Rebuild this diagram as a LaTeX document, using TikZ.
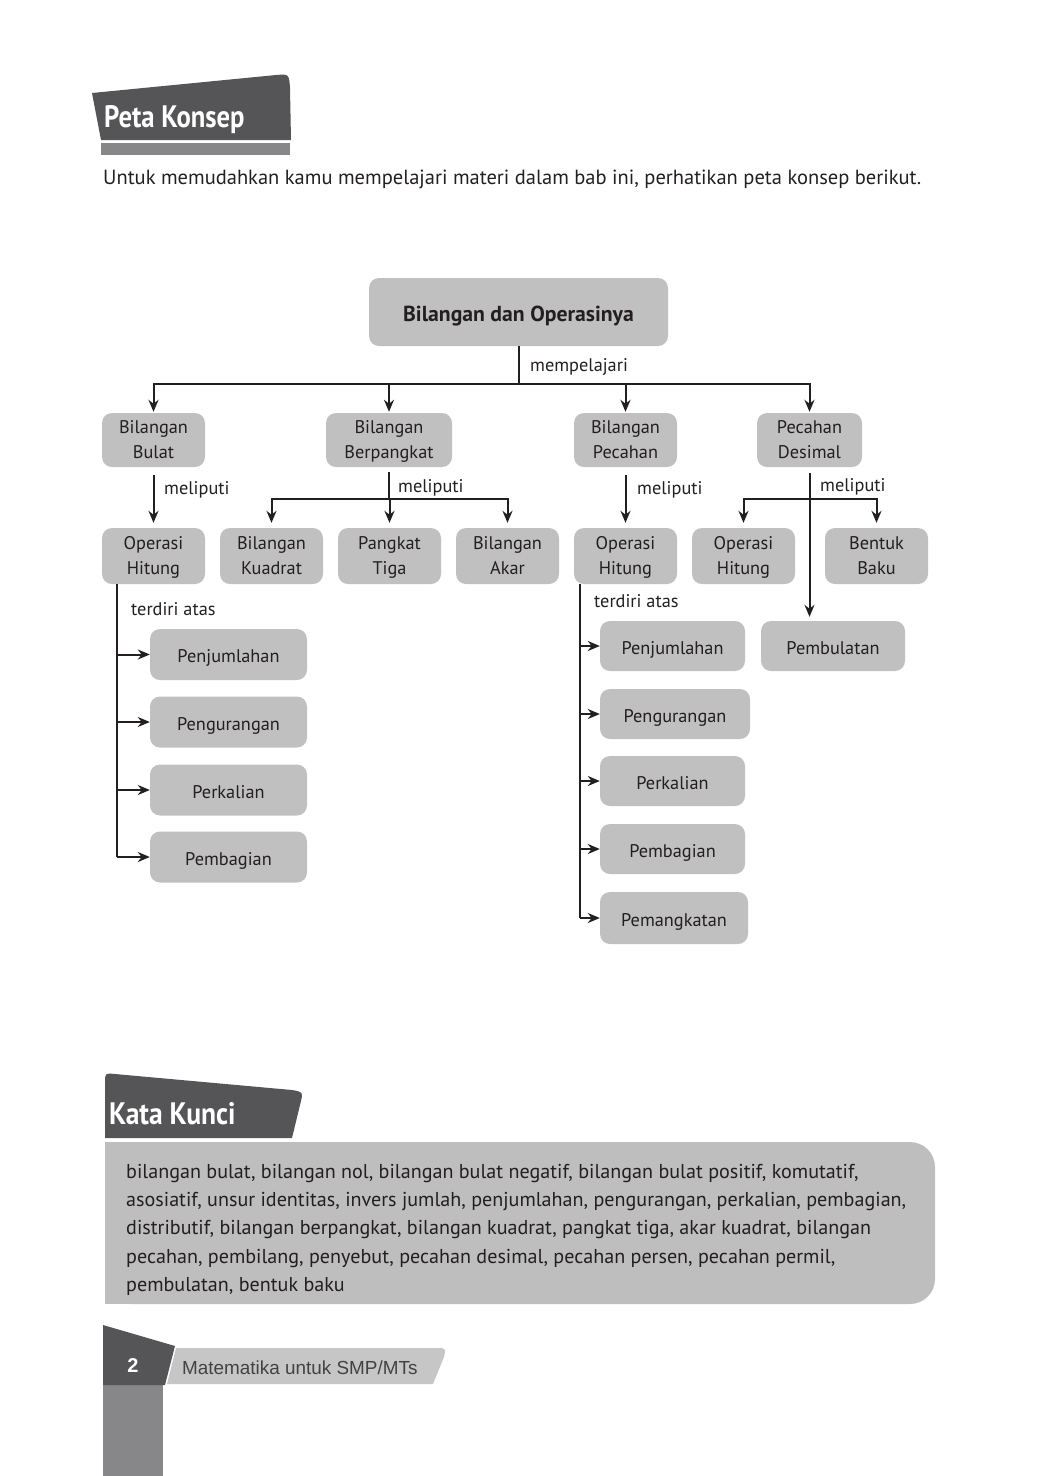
\documentclass[tikz,border=0pt]{standalone}
\usepackage{fontspec}
\usepackage{graphicx}
\setmainfont{PT Sans}
\newfontfamily\footfont{Liberation Sans}
\usetikzlibrary{arrows.meta}
\definecolor{dark}{HTML}{555557}
\definecolor{boxg}{HTML}{C0C0C0}
\definecolor{kkg}{HTML}{BEBEBF}
\definecolor{midg}{HTML}{87878A}
\definecolor{footg}{HTML}{C6C6C6}
\definecolor{txt}{HTML}{231F20}
\newcommand{\twostrut}{\rule[-6.5pt]{0pt}{25pt}}
\newcommand{\onestrut}{\rule[-4.5pt]{0pt}{25pt}}
\newcommand{\topstrut}{\rule[-3pt]{0pt}{25.6pt}}
\newcommand{\tl}[2]{#1\twostrut\\#2\twostrut}
\begin{document}
\begin{tikzpicture}[x=1pt,y=-1pt,
  box/.style={fill=boxg, rounded corners=10pt, text=txt, align=center,
    font=\fontsize{18.3}{25}\selectfont, inner sep=0pt},
  conn/.style={line width=2pt, draw=txt},
  arr/.style={conn, -{Stealth[length=12pt,width=10pt]}},
  lbl/.style={text=txt, font=\fontsize{18.3}{20}\selectfont, anchor=base west, inner sep=0pt},
  banner/.style={text=white, font=\fontsize{31}{34}\selectfont\bfseries, anchor=base west, inner sep=0pt}]
\useasboundingbox (0,0) rectangle (1039,1476);

% ---------- header
\fill[dark] (101,140) -- (92,93) -- (276,75) .. controls (289,74) .. (290,88) -- (291,140) -- cycle;
\fill[midg] (101,143) rectangle (290,155);
\node[banner] (title) at (104,127) {\scalebox{0.86}[1]{Peta Konsep}};
\node[lbl, font=\fontsize{20.5}{22}\selectfont] (intro) at (103,184)
  {Untuk memudahkan kamu mempelajari materi dalam bab ini, perhatikan peta konsep berikut.};

% ---------- concept map nodes
\node[box, minimum width=299pt, minimum height=68pt, font=\fontsize{21.7}{24}\selectfont\bfseries] (top) at (518.5,312) {Bilangan dan Operasinya\topstrut};

\node[box, minimum width=103pt, minimum height=54pt] (bulat) at (153.5,440) {\tl{Bilangan}{Bulat}};
\node[box, minimum width=126pt, minimum height=54pt] (pangkat) at (389,440) {\tl{Bilangan}{Berpangkat}};
\node[box, minimum width=103pt, minimum height=54pt] (pecahan) at (625.5,440) {\tl{Bilangan}{Pecahan}};
\node[box, minimum width=105pt, minimum height=54pt] (desimal) at (809.5,440) {\tl{Pecahan}{Desimal}};

\node[box, minimum width=103pt, minimum height=56pt] (oh1) at (153.5,556) {\tl{Operasi}{Hitung}};
\node[box, minimum width=103pt, minimum height=56pt] (kuadrat) at (271.5,556) {\tl{Bilangan}{Kuadrat}};
\node[box, minimum width=103pt, minimum height=56pt] (tiga) at (389.5,556) {\tl{Pangkat}{Tiga}};
\node[box, minimum width=103pt, minimum height=56pt] (akar) at (507.5,556) {\tl{Bilangan}{Akar}};
\node[box, minimum width=103pt, minimum height=56pt] (oh2) at (625.5,556) {\tl{Operasi}{Hitung}};
\node[box, minimum width=103pt, minimum height=56pt] (oh3) at (743.5,556) {\tl{Operasi}{Hitung}};
\node[box, minimum width=103pt, minimum height=56pt] (baku) at (876.5,556) {\tl{Bentuk}{Baku}};

\node[box, minimum width=144pt, minimum height=50pt] (bulatan) at (833,646) {Pembulatan\onestrut};

\node[box, minimum width=157pt, minimum height=51pt] (a1) at (228.5,654.5) {Penjumlahan\onestrut};
\node[box, minimum width=157pt, minimum height=51pt] (a2) at (228.5,722) {Pengurangan\onestrut};
\node[box, minimum width=157pt, minimum height=51pt] (a3) at (228.5,790) {Perkalian\onestrut};
\node[box, minimum width=157pt, minimum height=51pt] (a4) at (228.5,857) {Pembagian\onestrut};

\node[box, minimum width=145pt, minimum height=50pt] (b1) at (672.5,646) {Penjumlahan\onestrut};
\node[box, minimum width=150pt, minimum height=50pt] (b2) at (675,714) {Pengurangan\onestrut};
\node[box, minimum width=145pt, minimum height=50pt] (b3) at (672.5,781) {Perkalian\onestrut};
\node[box, minimum width=145pt, minimum height=50pt] (b4) at (672.5,849) {Pembagian\onestrut};
\node[box, minimum width=148pt, minimum height=52pt] (b5) at (674,918) {Pemangkatan\onestrut};

% ---------- labels
\node[lbl] (l0) at (530,371) {mempelajari};
\node[lbl] (l1) at (164,494) {meliputi};
\node[lbl] (l2) at (398,492) {meliputi};
\node[lbl] (l3) at (637,494) {meliputi};
\node[lbl] (l4) at (820,491) {meliputi};
\node[lbl] (l5) at (131,615) {terdiri atas};
\node[lbl] (l6) at (594,607) {terdiri atas};

% ---------- connectors
\coordinate (j0) at (518.5,384);
\draw[conn] (top.south) -- (j0);
\draw[conn, line cap=rect] (bulat.north |- j0) -- (desimal.north |- j0);
\foreach \n in {bulat,pangkat,pecahan,desimal}
  \draw[arr, shorten >=1pt] (\n.north |- j0) -- (\n.north);

\draw[arr, shorten >=5pt] ([yshift=-8pt]bulat.south) -- (oh1.north);

\coordinate (j2) at (389,499);
\draw[conn] ([yshift=-5pt]pangkat.south) -- (j2);
\draw[conn, line cap=rect] (kuadrat.north |- j2) -- (akar.north |- j2);
\foreach \n in {kuadrat,tiga,akar}
  \draw[arr, shorten >=5pt] (\n.north |- j2) -- (\n.north);

\draw[arr, shorten >=5pt] ([yshift=-8pt]pecahan.south) -- (oh2.north);

\coordinate (j3) at (810,499);
\draw[arr, shorten >=4pt] ([yshift=-6pt]desimal.south) -- (desimal.south |- bulatan.north);
\draw[conn, line cap=rect] (oh3.north |- j3) -- (baku.north |- j3);
\foreach \n in {oh3,baku}
  \draw[arr, shorten >=5pt] (\n.north |- j3) -- (\n.north);

\coordinate (t1) at (117,584);
\draw[conn] (t1) -- (t1 |- a4.west);
\foreach \n in {a1,a2,a3,a4}
  \draw[arr] (t1 |- \n.west) -- (\n.west);

\coordinate (t2) at (580,584);
\draw[conn] (t2) -- (t2 |- b5.west);
\foreach \n in {b1,b2,b3,b4,b5}
  \draw[arr] (t2 |- \n.west) -- (\n.west);

% ---------- Kata Kunci
\fill[kkg, rounded corners=25pt] (105,1142) rectangle (935,1304);
\fill[kkg] (105,1142) rectangle (200,1304);
\fill[dark] (105,1138) -- (105,1083) .. controls (105,1073) .. (115,1074) -- (292,1090) .. controls (303,1092) .. (301,1101) -- (292,1138) -- cycle;
\node[banner] (kk) at (109,1124) {\scalebox{0.89}[1]{Kata Kunci}};
\node[text=txt, anchor=north west, align=left, inner sep=0pt,
  font=\fontsize{20.1}{28.2}\selectfont] (kktext) at (126,1164)
  {bilangan bulat, bilangan nol, bilangan bulat negatif, bilangan bulat positif, komutatif,\\
   asosiatif, unsur identitas, invers jumlah, penjumlahan, pengurangan, perkalian, pembagian,\\
   distributif, bilangan berpangkat, bilangan kuadrat, pangkat tiga, akar kuadrat, bilangan\\
   pecahan, pembilang, penyebut, pecahan desimal, pecahan persen, pecahan permil,\\
   pembulatan, bentuk baku};

% ---------- footer
\fill[midg] (103,1384) rectangle (163,1476);
\fill[dark] (103,1385) -- (103,1325) -- (175,1346) -- (165,1385) -- cycle;
\fill[footg] (167,1384) -- (176,1348) -- (436,1348) .. controls (446,1348) .. (444,1357) -- (433,1384) -- cycle;
\node[text=white, font=\footfont\fontsize{20}{22}\selectfont\bfseries, anchor=base, inner sep=0pt] (pg) at (133,1372) {2};
\node[text=txt!85, font=\footfont\fontsize{18.9}{20}\selectfont, anchor=base west, inner sep=0pt] (ft) at (182,1374) {Matematika untuk SMP/MTs};
\end{tikzpicture}
\end{document}
